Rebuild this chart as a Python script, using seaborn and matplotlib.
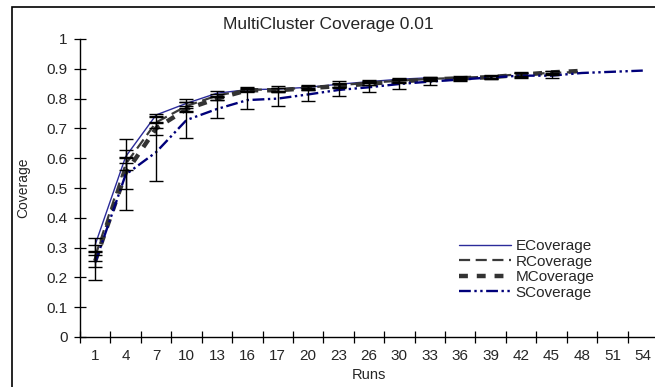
import numpy as np
import pandas as pd
import matplotlib
matplotlib.use("Agg")
import matplotlib.pyplot as plt
import seaborn as sns
from matplotlib.patches import Rectangle

runs = ["1", "4", "7", "10", "13", "16", "17", "20", "23", "26", "30", "33",
        "36", "39", "42", "45", "48", "51", "54"]

e_cov = [0.31, 0.605, 0.745, 0.784, 0.818, 0.83, 0.832, 0.838, 0.848, 0.857, 0.865, 0.87]
r_cov = [0.27, 0.58, 0.72, 0.775, 0.81, 0.83, 0.83, 0.837, 0.845, 0.853, 0.86, 0.866,
         0.87, 0.874, 0.882, 0.886, 0.89]
m_cov = [0.255, 0.55, 0.70, 0.765, 0.80, 0.828, 0.828, 0.835, 0.842, 0.85, 0.858, 0.864,
         0.868, 0.872, 0.88, 0.888, 0.893]
s_cov = [0.25, 0.545, 0.62, 0.728, 0.765, 0.795, 0.80, 0.814, 0.829, 0.838, 0.849, 0.857,
         0.864, 0.871, 0.877, 0.877, 0.886, 0.89, 0.894]

e_err = [0.022, 0.022, 0.004, 0.016, 0.008, 0.008, 0.01, 0.008, 0.01, 0.005, 0.004, 0.004]
r_err = [0.016, 0.02, 0.017, 0.015, 0.005, 0.006, 0.006, 0.006, 0.006, 0.006, 0.005, 0.005,
         0.005, 0.005, 0.006, 0.006]
m_err = [0.02, 0.055, 0.022, 0.01, 0.006, 0.004, 0.006, 0.006, 0.006, 0.006, 0.005, 0.005,
         0.005, 0.005, 0.006, 0.006]
s_err = [0.06, 0.12, 0.098, 0.059, 0.031, 0.03, 0.025, 0.022, 0.02, 0.017, 0.017, 0.011,
         0.005, 0.005, 0.009, 0.008]

sns.set_style("white")
plt.rcParams["font.family"] = ["Liberation Sans", "DejaVu Sans"]

fig = plt.figure(figsize=(6.55, 3.87), dpi=100)
ax = fig.add_axes([80 / 655, 1 - 337 / 387, 578 / 655, (337 - 39) / 387])

series = [
    ("ECoverage", e_cov, e_err, "#2b2b9a", (None, None), 1.0),
    ("RCoverage", r_cov, r_err, "#3a3a3a", (5, 2.5), 1.6),
    ("MCoverage", m_cov, m_err, "#333333", (2, 2), 3.2),
    ("SCoverage", s_cov, s_err, "#00007a", (5, 1.5, 1, 1.5, 1, 1.5), 1.7),
]

for name, vals, errs, color, dash, lw in series:
    df = pd.DataFrame({"x": np.arange(len(vals)), "y": vals})
    sns.lineplot(data=df, x="x", y="y", ax=ax, color=color, lw=lw, label=name)
    ln = ax.lines[-1]
    if dash[0] is not None:
        ln.set_dashes(dash)
    n = len(errs)
    ax.errorbar(np.arange(n), vals[:n], yerr=errs, fmt="none", ecolor="black",
                elinewidth=1.0, capsize=5, capthick=1.0, zorder=3)

ax.set_xlim(-0.5, len(runs) - 0.5)
ax.set_ylim(0, 1)
ax.set_yticks(np.arange(0, 1.01, 0.1))
ax.set_yticklabels(["0", "0.1", "0.2", "0.3", "0.4", "0.5", "0.6", "0.7", "0.8", "0.9", "1"])
ax.set_xticks(np.arange(len(runs) + 1) - 0.5)
ax.set_xticklabels([])
ax.set_xticks(np.arange(len(runs)), minor=True)
ax.set_xticklabels(runs, minor=True)
ax.tick_params(axis="x", which="major", bottom=True, direction="inout", length=8,
               width=0.9, color="black")
ax.tick_params(axis="x", which="minor", bottom=True, length=0, pad=9, labelsize=11)
ax.tick_params(axis="y", which="major", left=True, direction="inout", length=8,
               width=0.9, color="black", labelsize=11, pad=5)

for s in ["top", "right"]:
    ax.spines[s].set_visible(False)
for s in ["left", "bottom"]:
    ax.spines[s].set_color("black")
    ax.spines[s].set_linewidth(1.0)

ax.set_xlabel("Runs", fontsize=10.5, labelpad=3)
ax.set_ylabel("Coverage", fontsize=10)
ax.yaxis.set_label_coords((30 - 80) / 578, 0.5)
fig.text(328 / 655, 1 - 24 / 387, "MultiCluster Coverage 0.01", ha="center", va="center",
         fontsize=12.5)

ax.legend(loc="upper left", bbox_to_anchor=(459 / 655, 1 - 239 / 387),
          bbox_transform=fig.transFigure, frameon=False, borderpad=0,
          fontsize=11, handlelength=3.4, handletextpad=0.3, labelspacing=0.1,
          borderaxespad=0)

fig.add_artist(Rectangle((11.5 / 655, -0.1), 1.0, 1.1 - 7 / 387, transform=fig.transFigure,
                         fill=False, edgecolor="black", lw=1.2))

fig.savefig("out.png", dpi=100)
